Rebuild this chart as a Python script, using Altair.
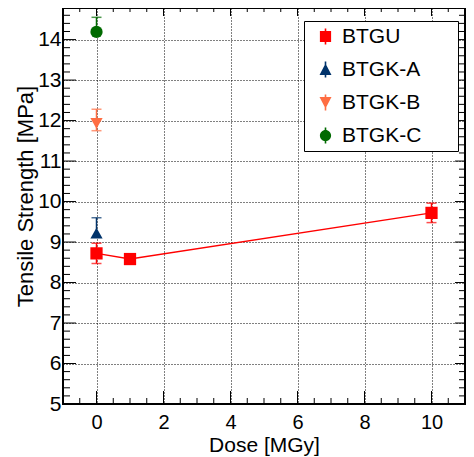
import altair as alt
import pandas as pd

# ---- data ----
series = ["BTGU", "BTGU", "BTGU", "BTGK-A", "BTGK-B", "BTGK-C"]
dose = [0, 1, 10, 0, 0, 0]
strength = [8.72, 8.58, 9.72, 9.22, 11.93, 14.19]
err_low = [0.25, 0.0, 0.24, 0.0, 0.18, 0.0]
err_high = [0.25, 0.0, 0.24, 0.38, 0.35, 0.36]

names = ["BTGU", "BTGK-A", "BTGK-B", "BTGK-C"]
colors = ["#ff0000", "#00336b", "#ff6d42", "#006a00"]
shapes = ["square", "triangle-up", "triangle-down", "circle"]

x_major = [0, 2, 4, 6, 8, 10]
x_minor = [i / 2 for i in range(-1, 22) if i % 4 != 0]
y_major = [5, 6, 7, 8, 9, 10, 11, 12, 13, 14]
y_minor = [round(5 + i * 0.2, 1) for i in range(0, 49) if i % 5 != 0]

df = pd.DataFrame({
    "series": series,
    "dose": dose,
    "strength": strength,
    "lo": [s - e for s, e in zip(strength, err_low)],
    "hi": [s + e for s, e in zip(strength, err_high)],
})

W, H = 402, 396
FONT = "Liberation Sans"
xs = alt.Scale(domain=[-1, 11], nice=False, zero=False)
ys = alt.Scale(domain=[5, 14.78], nice=False, zero=False)
cscale = alt.Scale(domain=names, range=colors)

base = alt.Chart(df)

# grid + labels + titles
main_axes = base.mark_point(opacity=0).encode(
    x=alt.X("dose:Q", scale=xs, axis=alt.Axis(
        orient="bottom", values=x_major, grid=True, gridColor="black",
        gridDash=[1, 2], gridWidth=1, gridOpacity=1, ticks=False, domain=False,
        labelFont=FONT, labelFontSize=20, labelColor="black", labelPadding=8,
        title="Dose [MGy]", titleFont=FONT, titleFontSize=21,
        titleFontWeight="normal", titleColor="black",
        titleBaseline="alphabetic", titleY=47)),
    y=alt.Y("strength:Q", scale=ys, axis=alt.Axis(
        orient="left", values=y_major, grid=True, gridColor="black",
        gridDash=[1, 2], gridWidth=1, gridOpacity=1, ticks=False, domain=False,
        labelFont=FONT, labelFontSize=21, labelColor="black", labelPadding=2,
        title="Tensile Strength [MPa]", titleFont=FONT, titleFontSize=22,
        titleFontWeight="normal", titleColor="black",
        titleBaseline="alphabetic", titleX=-31, titleY=188)),
)


def xticks(vals, y0, y1):
    return alt.Chart(pd.DataFrame({"v": vals})).mark_rule(color="black", strokeWidth=1).encode(
        x=alt.X("v:Q", scale=xs, axis=None), y=alt.value(y0), y2=alt.value(y1))


def yticks(vals, x0, x1):
    return alt.Chart(pd.DataFrame({"v": vals})).mark_rule(color="black", strokeWidth=1).encode(
        y=alt.Y("v:Q", scale=ys, axis=None), x=alt.value(x0), x2=alt.value(x1))


ticks = [
    xticks(x_major, H, H - 13), xticks(x_minor, H, H - 6),
    xticks(x_major, 0, 8), xticks(x_minor, 0, 4),
    yticks(y_major, 0, 13), yticks(y_minor, 0, 7),
    yticks(y_major, W, W - 10), yticks(y_minor, W, W - 6),
]

X = alt.X("dose:Q", scale=xs, axis=None)
C = alt.Color("series:N", scale=cscale, legend=None)

line = base.transform_filter("datum.series == 'BTGU'").mark_line(
    color="#ff0000", strokeWidth=1.5).encode(
    x=X, y=alt.Y("strength:Q", scale=ys, axis=None))

bars = base.transform_filter("datum.hi > datum.lo").mark_rule(strokeWidth=1.5).encode(
    x=X, y=alt.Y("lo:Q", scale=ys, axis=None), y2="hi:Q", color=C)

cap_hi = base.transform_filter("datum.hi - datum.strength > 0.15").mark_tick(
    orient="horizontal", size=10, thickness=1.5).encode(
    x=X, y=alt.Y("hi:Q", scale=ys, axis=None), color=C)

cap_lo = base.transform_filter("datum.strength - datum.lo > 0.15").mark_tick(
    orient="horizontal", size=10, thickness=1.5).encode(
    x=X, y=alt.Y("lo:Q", scale=ys, axis=None), color=C)

points = base.mark_point(filled=True, size=150, opacity=1, strokeWidth=0).encode(
    x=X, y=alt.Y("strength:Q", scale=ys, axis=None), color=C,
    shape=alt.Shape("series:N", scale=alt.Scale(domain=names, range=shapes), legend=None))

# legend symbols: marker with its vertical error bar
bar_path = "M-0.1,-1H0.1V1H-0.1Z "
legend_paths = [
    bar_path + "M-0.7,-0.7H0.7V0.7H-0.7Z",
    bar_path + "M0,-0.75L0.75,0.7H-0.75Z",
    bar_path + "M-0.75,-0.7H0.75L0,0.75Z",
    bar_path + "M0.7,0A0.7,0.7 0 1,1 -0.7,0A0.7,0.7 0 1,1 0.7,0Z",
]
leg = alt.Legend(orient="none", legendX=241, legendY=13, title=".",
                 titleColor="white", titleFontSize=20, titleOrient="right",
                 titlePadding=26,
                 labelFont=FONT, labelFontSize=21, labelColor="black",
                 strokeColor="black", fillColor="white", padding=5,
                 rowPadding=11, symbolOffset=6, labelOffset=6,
                 symbolStrokeWidth=0, symbolSize=256)
legend_layer = base.transform_filter("false").mark_point(
    filled=True, size=256, opacity=1, strokeWidth=0).encode(
    color=alt.Color("series:N", scale=cscale, legend=leg),
    shape=alt.Shape("series:N", scale=alt.Scale(domain=names, range=legend_paths), legend=leg))

chart = alt.layer(
    main_axes, *ticks, line, bars, cap_hi, cap_lo, points, legend_layer
).resolve_axis(x="independent", y="independent").resolve_scale(
    color="independent", shape="independent"
).properties(
    width=W, height=H,
    autosize=alt.AutoSizeParams(type="none"),
    padding={"left": 55, "top": 0, "right": 1, "bottom": 52},
).configure_view(stroke="black", strokeWidth=2)

chart.save("out.html", embed_options={"renderer": "svg", "actions": False})
